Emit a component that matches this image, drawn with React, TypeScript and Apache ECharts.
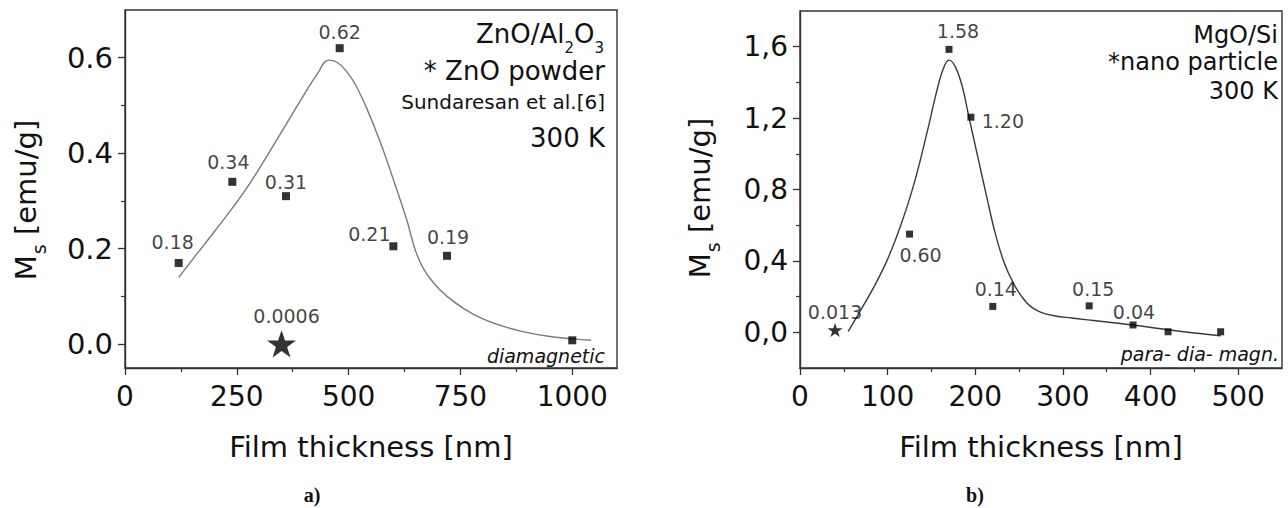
import React, { useEffect, useRef } from 'react';
import * as echarts from 'echarts';

// ---------- data: panel a) ZnO/Al2O3 ----------
const leftThickness = [120, 240, 360, 480, 600, 720, 1000];
const leftMs = [0.17, 0.34, 0.31, 0.62, 0.205, 0.185, 0.008];
const leftLabels = ['0.18', '0.34', '0.31', '0.62', '0.21', '0.19', ''];
const leftPowderX = [350];
const leftPowderY = [0.0006];
const leftPowderLabels = ['0.0006'];
const leftFitX = [120, 160, 200, 240, 280, 320, 360, 400, 430, 455, 475, 495, 515, 540, 570, 600, 630, 648, 665, 690, 720, 760, 800, 850, 900, 950, 1000, 1042];
const leftFitY = [0.14, 0.188, 0.236, 0.285, 0.338, 0.398, 0.46, 0.522, 0.566, 0.595, 0.59, 0.572, 0.544, 0.495, 0.425, 0.345, 0.26, 0.2, 0.162, 0.128, 0.1, 0.073, 0.053, 0.036, 0.024, 0.016, 0.011, 0.008];
const leftXTicks = [0, 250, 500, 750, 1000];
const leftXMinor = [125, 375, 625, 875];
const leftYTicks = [0, 0.2, 0.4, 0.6];
const leftYMinor = [0.1, 0.3, 0.5];

// ---------- data: panel b) MgO/Si ----------
const rightThickness = [125, 170, 195, 220, 330, 380, 420, 480];
const rightMs = [0.55, 1.585, 1.205, 0.145, 0.148, 0.041, 0.003, 0.003];
const rightLabels = ['0.60', '1.58', '1.20', '0.14', '0.15', '0.04', '', ''];
const rightNanoX = [40];
const rightNanoY = [0.013];
const rightNanoLabels = ['0.013'];
const rightFitX = [55, 70, 85, 100, 115, 130, 145, 155, 163, 170, 177, 185, 193, 203, 213, 223, 233, 243, 253, 263, 275, 290, 310, 335, 360, 380, 420, 450, 480];
const rightFitY = [0.005, 0.13, 0.26, 0.41, 0.6, 0.83, 1.12, 1.33, 1.47, 1.525, 1.49, 1.38, 1.2, 0.98, 0.76, 0.55, 0.39, 0.28, 0.2, 0.145, 0.112, 0.093, 0.08, 0.066, 0.052, 0.041, 0.014, -0.004, -0.019];
const rightXTicks = [0, 100, 200, 300, 400, 500];
const rightXMinor = [50, 150, 250, 350, 450];
const rightYTicks = [0, 0.4, 0.8, 1.2, 1.6];
const rightYMinor = [0.2, 0.6, 1.0, 1.4];

// ---------- styling ----------
const FONT = 'DejaVu Sans';
const INK = '#111111';
const FRAME = '#333333';
const leftLabelOffsets = [[-6, -21], [-4, -20], [0, -14], [0, -16], [-24, -12], [1, -19], [0, 0]];
const leftPowderOffsets = [[5, -28]];
const rightLabelOffsets = [[11, 21], [9, -18], [32, 4], [3, -17], [4, -17], [1, -13], [0, 0], [0, 0]];
const rightNanoOffsets = [[0, -18]];
const STAR = 'path://M50,0 L61.8,35.1 L98.9,35.1 L68.9,56.8 L80.3,92 L50,70.3 L19.7,92 L31.1,56.8 L1.1,35.1 L38.2,35.1 Z';

function mainX(gridIndex: number, min: number, max: number, ticks: number[], fontSize: number) {
  return {
    type: 'value', gridIndex, min, max, position: 'bottom',
    name: 'Film thickness [nm]', nameLocation: 'middle', nameGap: 64,
    nameTextStyle: { fontFamily: FONT, fontSize: 29, color: INK },
    axisLine: { show: true, onZero: false, lineStyle: { color: FRAME, width: 1.4 } },
    splitLine: { show: false },
    axisTick: { show: true, inside: false, length: 7, customValues: ticks, lineStyle: { color: FRAME, width: 1.3 } },
    axisLabel: { show: true, customValues: ticks, margin: 14, fontFamily: FONT, fontSize, color: INK, formatter: (v: number) => String(Math.round(v)) },
  };
}
function minorX(gridIndex: number, min: number, max: number, ticks: number[]) {
  return {
    type: 'value', gridIndex, min, max, position: 'bottom',
    axisLine: { show: false, onZero: false },
    splitLine: { show: false },
    axisTick: { show: true, inside: false, length: 4, customValues: ticks, lineStyle: { color: FRAME, width: 1.2 } },
    axisLabel: { show: false },
  };
}
function mainY(gridIndex: number, min: number, max: number, ticks: number[], fontSize: number, comma: boolean) {
  return {
    type: 'value', gridIndex, min, max, position: 'left',
    axisLine: { show: true, onZero: false, lineStyle: { color: FRAME, width: 1.4 } },
    splitLine: { show: false },
    axisTick: { show: true, inside: false, length: 7, customValues: ticks, lineStyle: { color: FRAME, width: 1.3 } },
    axisLabel: {
      show: true, customValues: ticks, margin: 12, fontFamily: FONT, fontSize, color: INK,
      formatter: (v: number) => (comma ? v.toFixed(1).replace('.', ',') : v.toFixed(1)),
    },
  };
}
function minorY(gridIndex: number, min: number, max: number, ticks: number[]) {
  return {
    type: 'value', gridIndex, min, max, position: 'left',
    axisLine: { show: false, onZero: false },
    splitLine: { show: false },
    axisTick: { show: true, inside: false, length: 4, customValues: ticks, lineStyle: { color: FRAME, width: 1.2 } },
    axisLabel: { show: false },
  };
}

function points(xs: number[], ys: number[], labels: string[], offsets: number[][]) {
  return xs.map((x, i) => ({
    value: [x, ys[i]],
    label: { show: !!labels[i], formatter: labels[i] || '', offset: offsets[i] },
  }));
}

const labelBase = { position: 'inside', fontFamily: FONT, fontSize: 19, color: INK };

function txt(text: string, x: number, y: number, fontSize: number, extra: any = {}) {
  return {
    type: 'text', x, y,
    style: { text, fontFamily: FONT, fontSize, fill: INK, align: 'right', verticalAlign: 'middle', ...extra },
  };
}

export default function App() {
  const ref = useRef<HTMLDivElement>(null);
  useEffect(() => {
    document.body.style.margin = '0';
    const chart = echarts.init(ref.current!, null, { renderer: 'svg' });
    const yNameRich = {
      M: { fontFamily: FONT, fontSize: 29, lineHeight: 34, verticalAlign: 'top', color: INK },
      s: { fontFamily: FONT, fontSize: 19, lineHeight: 19, verticalAlign: 'top', padding: [18, 0, 0, 1], color: INK },
      n: { fontFamily: FONT, fontSize: 29, lineHeight: 34, verticalAlign: 'top', color: INK },
    };
    chart.setOption({
      animation: false,
      backgroundColor: '#ffffff',
      grid: [
        { left: 125, right: 671, top: 10, bottom: 140, show: true, borderColor: FRAME, borderWidth: 1.4, backgroundColor: 'transparent' },
        { left: 800, right: 6, top: 11, bottom: 140, show: true, borderColor: FRAME, borderWidth: 1.4, backgroundColor: 'transparent' },
      ],
      xAxis: [
        mainX(0, 0, 1100, leftXTicks, 28),
        minorX(0, 0, 1100, leftXMinor),
        mainX(1, 0, 550, rightXTicks, 28),
        minorX(1, 0, 550, rightXMinor),
      ],
      yAxis: [
        mainY(0, -0.05, 0.7, leftYTicks, 29, false),
        minorY(0, -0.05, 0.7, leftYMinor),
        mainY(1, -0.2, 1.8, rightYTicks, 28, true),
        minorY(1, -0.2, 1.8, rightYMinor),
      ],
      series: [
        {
          type: 'line', xAxisIndex: 0, yAxisIndex: 0, smooth: 0.4, showSymbol: false, symbol: 'none',
          data: leftFitX.map((x, i) => [x, leftFitY[i]]),
          lineStyle: { color: '#7a7a7a', width: 1.4 }, z: 2,
        },
        {
          type: 'scatter', xAxisIndex: 0, yAxisIndex: 0, symbol: 'rect', symbolSize: 8,
          itemStyle: { color: '#000' }, label: labelBase, z: 3,
          data: points(leftThickness, leftMs, leftLabels, leftLabelOffsets),
        },
        {
          type: 'scatter', xAxisIndex: 0, yAxisIndex: 0, symbol: STAR, symbolSize: 29, symbolKeepAspect: true,
          itemStyle: { color: '#000' }, label: labelBase, z: 3,
          data: points(leftPowderX, leftPowderY, leftPowderLabels, leftPowderOffsets),
        },
        {
          type: 'line', xAxisIndex: 2, yAxisIndex: 2, smooth: 0.4, showSymbol: false, symbol: 'none',
          data: rightFitX.map((x, i) => [x, rightFitY[i]]),
          lineStyle: { color: '#3a3a3a', width: 1.4 }, z: 2,
        },
        {
          type: 'scatter', xAxisIndex: 2, yAxisIndex: 2, symbol: 'rect', symbolSize: 7,
          itemStyle: { color: '#000' }, label: labelBase, z: 3,
          data: points(rightThickness, rightMs, rightLabels, rightLabelOffsets),
        },
        {
          type: 'scatter', xAxisIndex: 2, yAxisIndex: 2, symbol: STAR, symbolSize: 15, symbolKeepAspect: true,
          itemStyle: { color: '#000' }, label: labelBase, z: 3,
          data: points(rightNanoX, rightNanoY, rightNanoLabels, rightNanoOffsets),
        },
      ],
      graphic: [
        {
          type: 'text', x: 28, y: 200, rotation: Math.PI / 2,
          style: { text: '{M|M}{s|s}{n| [emu/g]}', rich: yNameRich, align: 'center', verticalAlign: 'middle', fill: INK },
        },
        {
          type: 'text', x: 702, y: 198, rotation: Math.PI / 2,
          style: { text: '{M|M}{s|s}{n| [emu/g]}', rich: yNameRich, align: 'center', verticalAlign: 'middle', fill: INK },
        },
        txt('ZnO/Al', 564.5, 34, 26),
        txt('2', 574, 48, 15),
        txt('O', 594.5, 34, 26),
        txt('3', 604, 48, 15),
        txt('* ZnO powder', 605, 71, 26),
        txt('Sundaresan et al.[6]', 605, 102, 20),
        txt('300 K', 605, 138, 26),
        txt('diamagnetic', 605, 356, 19, { fontStyle: 'italic' }),
        txt('MgO/Si', 1278, 35, 24),
        txt('*nano particle', 1278, 62, 24),
        txt('300 K', 1278, 91, 24),
        txt('para- dia- magn.', 1279, 354, 19, { fontStyle: 'italic' }),
        txt('a)', 312, 495, 20, { fontFamily: 'Liberation Serif', fontWeight: 'bold', align: 'center' }),
        txt('b)', 975, 495, 20, { fontFamily: 'Liberation Serif', fontWeight: 'bold', align: 'center' }),
      ],
    });
    return () => chart.dispose();
  }, []);
  return <div ref={ref} style={{ position: 'fixed', left: 0, top: 0, width: 1288, height: 508, background: '#fff' }} />;
}
